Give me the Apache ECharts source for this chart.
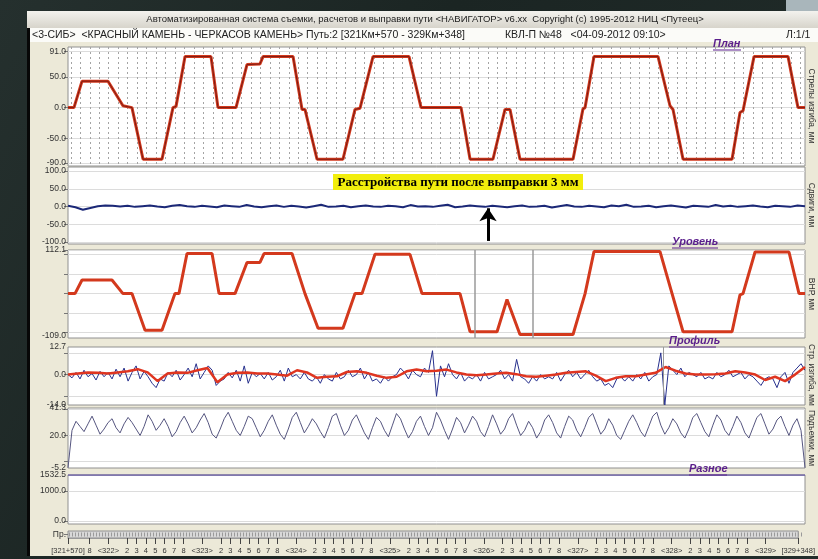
<!DOCTYPE html>
<html><head><meta charset="utf-8">
<script src="https://cdn.jsdelivr.net/npm/echarts@6/dist/echarts.min.js"></script>
<style>
html,body{margin:0;padding:0;background:#1e2927;overflow:hidden;}
#bg{position:absolute;left:0;top:0;width:818px;height:559px;background:linear-gradient(120deg,#25302e 0%,#1b2523 40%,#222d2b 100%);}
#corner{position:absolute;left:786px;top:0;width:32px;height:11px;background:#a9b6bb;}
#win{position:absolute;left:27px;top:11px;width:788px;height:545px;background:#ece9d8;border-left:3px solid #070707;}
#title{position:absolute;left:27px;top:11px;width:791px;height:17px;background:linear-gradient(#f3f2ee,#d7d4cb);}
#row2{position:absolute;left:30px;top:28px;width:788px;height:14px;background:#fbfbf8;}
#c{position:absolute;left:0;top:0;width:818px;height:559px;}
</style>
</head><body>
<div id="bg"></div><div id="corner"></div><div id="win"></div><div id="title"></div><div id="row2"></div>
<div id="c"></div>
<script>
const X_MIN = 321.57, X_MAX = 329.348;

// План (стрелы изгиба)
const planKm = [321.570,321.633,321.718,321.992,322.150,322.245,322.362,322.562,322.678,322.710,322.805,323.079,323.153,323.343,323.459,323.596,323.628,323.945,324.040,324.071,324.198,324.472,324.599,324.652,324.789,325.169,325.296,325.718,325.813,326.055,326.182,326.235,326.340,326.900,327.005,327.027,327.121,327.797,327.923,327.955,328.061,328.578,328.662,328.694,328.810,329.169,329.274,329.348];
const planVal = [0,0,43,43,3,0,-84,-84,0,2,83,83,0,0,70,71,83,83,-3,-3,-84,-84,-3,-1,83,83,0,0,-84,-84,-3,-3,-84,-84,-2,0,83,83,3,-3,-84,-84,-8,-5,83,83,0,0];

// Сдвиги
const shiftVals = [2,-2,-9,-4,1,3,2,0,2,-1, 1,3,0,-2,2,4,1,-1,2,0, -2,3,1,-1,4,0,-2,1,3,-1, 2,0,-3,1,5,-1,0,2,-2,1, 3,0,-1,2,1,-2,4,0,1,-1, 2,5,-2,0,3,1,-1,2,0,-2, 1,3,-1,0,2,-3,1,4,0,-1, 2,0,-2,3,1,5,-1,0,2,-2, 1,3,0,-3,2,1,-1,4,0,2, -1,1,3,0,-2,2,1,-1,3,1];

// Уровень (ВНР)
const levelKm = [321.570,321.644,321.718,322.034,322.150,322.245,322.383,322.562,322.699,322.741,322.826,323.090,323.164,323.333,323.459,323.596,323.639,323.934,324.071,324.092,324.209,324.472,324.599,324.673,324.810,325.179,325.306,325.707,325.813,326.098,326.203,326.340,326.900,327.027,327.121,327.818,327.945,328.061,328.578,328.662,328.694,328.821,329.179,329.285,329.348];
const levelVal = [0,0,35,35,0,0,-94,-94,0,0,103,103,0,0,80,80,103,103,0,0,-89,-89,0,0,101,101,0,0,-98,-98,-15,-105,-105,0,108,108,0,-98,-98,-3,0,107,107,0,0];
const levelMarks = [325.855, 326.467];

// Профиль
const profileTrend = [0,0.5,1,0.8,0.5,1,1.5,2.5,1,-3, 0.5,1,0.8,2,3,-3.5,0,0.8,1,0.5, 0.5,0,-0.5,2,1,-1.5,-1,-0.8,1.2,1.5, 0.8,-0.5,-1.5,-1,1.5,2.3,1.5,1.8,2.3,1, 0,-0.3,0,0.5,0.8,0.2,-0.8,-1,-0.5,0, 0.8,1.2,1.5,-0.5,-3,-1.5,-0.8,-0.8,0,0.8, 3.5,1.8,0.5,0,0,0.2,0.5,1.5,1,0, -2.5,-1,-3,0,3.5];
const profileRaw = [
 0,-1.5,1,-2,2,-1,0.5,-2.5,1.5,-1,
 1,-2,2.5,-1,3,-3,1,4,-2,1.5,
 -1,-4,-6,-2,-3,1,-1,2,-2.5,0,
 3,-1,5,-2,1,4,2,-5,-3,-2,
 1,-1.5,2,-3,4,-4,1,-1,0.5,-2,
 1,-2.5,-1,2,-3,3,-1,0,-2,1,
 -2,-3,-1,-4,0,-2,-3,1,-2,-1,
 2,-1,0,3,-2,1,-3,-2,-4,-1,
 -3,-1,0,3,1,-2,2,0,-1,3,
 1,11,-10,4,-1,5,0,-2,1,-3,
 -1,-2,0,-3,1,-2,-1,0,2,-2,
 0,-3,7,-1,-2,-4,-1,-3,0,-2,
 -1,-2,1,-3,0,2,-1,1,-2,0,
 2,-1,-3,-2,-5,-4,-6,-2,-1,-3,
 -1,-3,0,-2,1,-3,-1,0,10,-14,
 4,2,0,3,-1,1,0,-1,1,-2,
 -1,-2,1,-1,0,2,-1,0,1,-2,
 0,-1,-3,-5,-2,-1,-2,-6,-1,1,
 -4,1,3,5,2];
const profileMark = [327.850];

// Подъемки
const liftVals = [
 -5,24,31,27,23,29,35,28,21,25,
 30,33,26,22,29,34,30,25,20,27,
 36,31,24,28,33,27,19,23,30,35,
 29,22,26,32,37,30,21,18,25,33,
 38,31,24,20,27,35,33,26,19,24,
 31,36,28,21,17,25,34,38,30,22,
 27,33,29,23,18,26,35,37,28,20,
 24,32,36,29,22,17,26,34,31,24,
 19,28,37,33,25,18,23,31,35,27,
 20,26,38,32,24,17,25,34,30,22,
 28,35,31,23,19,27,36,29,21,25,
 33,37,28,20,24,31,26,18,23,32,
 36,30,22,18,27,35,32,24,19,26,
 34,37,29,21,25,33,28,20,17,24,
 31,36,30,23,19,27,35,38,28,21,
 26,33,29,22,18,25,34,37,30,23,
 19,28,36,32,24,20,27,35,30,22,
 18,26,34,37,29,21,25,32,35,27,
 20,28,33,24,-5];

// Разное
const raznoeKm = [321.57, 329.348];
const raznoeVal = [1532.5, 1532.5];

// Tick labels of the kilometre scale
const kmTicks = [321.57, 321.8];
const kmLabels = ['[321+570]', '8'];
for (let k = 322; k <= 329; k++) {
  kmTicks.push(k); kmLabels.push('<' + k + '>');
  if (k < 329) for (let p = 2; p <= 8; p++) { kmTicks.push(+(k + p / 10).toFixed(1)); kmLabels.push(String(p)); }
}
kmTicks.push(329.348); kmLabels.push('[329+348]');
const pickets = [];
for (let i = 3216; i <= 3293; i++) pickets.push(i / 10);

function zip(xs, ys) { return xs.map((x, i) => [x, ys[i]]); }
function spread(vals) { const n = vals.length; return vals.map((v, i) => [X_MIN + (X_MAX - X_MIN) * i / (n - 1), v]); }

const FONT = 'Liberation Sans';
const gridDefs = [[47,119],[167,77],[250,88],[347,58],[408,60],[475,49],[531,7]];
const grid = gridDefs.map((g, i) => ({left:68, right:13, top:g[0], height:g[1], show:true,
  backgroundColor: i === 6 ? '#d8d8d8' : '#ffffff', borderColor:'#909090', borderWidth:1}));

function xAx(i, extra) {
  return Object.assign({type:'value', gridIndex:i, min:X_MIN, max:X_MAX, show:false}, extra || {});
}
function yAx(i, min, max, labels, ticks, fmt) {
  return {type:'value', gridIndex:i, min:min, max:max,
    axisLine:{show:false},
    axisTick:{show:true, customValues:ticks, length:4, lineStyle:{color:'#777'}},
    axisLabel:{customValues:labels, formatter: fmt || (v => v.toFixed(1)), fontSize:8.5, fontFamily:FONT, color:'#333', margin:2},
    splitLine:{show:true, lineStyle:{color:'#dcdcdc', width:1}}};
}

const xAxis = [
  xAx(0, {show:true, axisLine:{show:false}, axisLabel:{show:false},
    axisTick:{show:false, customValues:pickets},
    splitLine:{show:true, lineStyle:{color:'#a4a4a4', type:[2,3], width:1}}}),
  xAx(1), xAx(2), xAx(3), xAx(4), xAx(5),
  xAx(6, {show:true, axisLine:{show:true, lineStyle:{color:'#9a9a9a'}},
    axisTick:{show:true, customValues:kmTicks, length:6, lineStyle:{color:'#444'}},
    axisLabel:{show:true, customValues:kmTicks, hideOverlap:false, fontSize:7.5, fontFamily:FONT, color:'#333', margin:9,
      formatter: v => { const i = kmTicks.findIndex(t => Math.abs(t - v) < 1e-6); return i >= 0 ? kmLabels[i] : ''; }},
    splitLine:{show:false}})
];

const yAxis = [
  yAx(0, -95, 98.6, [-90,-50,0,50,91], [-90,-50,0,50,91]),
  yAx(1, -105.6, 111.3, [-100,-50,0,50,100], [-100,-50,0,50,100]),
  yAx(2, -114.1, 112.1, [-109,112.1], [-100,-50,0,50,100,112.1]),
  yAx(3, -14, 12.7, [-14,0,12.7], [-10,0,10]),
  yAx(4, -5.2, 41.3, [-5.2,20,41.3], [0,20,40]),
  yAx(5, -100, 1532.5, [0,1000,1532.5], [0,1000]),
  yAx(6, 0, 1, [0.5], [0.5], () => 'Пр.')
];
yAxis[6].splitLine = {show:false};

const RED = '#d3391d';
const series = [
  {type:'line', xAxisIndex:0, yAxisIndex:0, data:zip(planKm, planVal), showSymbol:false, lineStyle:{color:RED, width:3}, z:3},
  {type:'line', xAxisIndex:0, yAxisIndex:0, data:zip(planKm, planVal), showSymbol:false, lineStyle:{color:'#7d1b12', width:1}, z:4},
  {type:'line', xAxisIndex:1, yAxisIndex:1, data:spread(shiftVals), showSymbol:false, lineStyle:{color:'#1b2877', width:2}, z:3,
    markLine:{silent:true, symbol:['none','arrow'], symbolSize:13, label:{show:false},
      lineStyle:{color:'#000', width:3, type:'solid'},
      data:[[{coord:[326.003,-97]},{coord:[326.003,-5]}]]}},
  {type:'line', xAxisIndex:2, yAxisIndex:2, data:zip(levelKm, levelVal), showSymbol:false, lineStyle:{color:RED, width:3}, z:3,
    markLine:{silent:true, symbol:'none', label:{show:false}, lineStyle:{color:'#9a9a9a', width:1.5, type:'solid'},
      data: levelMarks.map(v => ({xAxis:v}))}},
  {type:'line', xAxisIndex:3, yAxisIndex:3, data:spread(profileRaw), showSymbol:false, lineStyle:{color:'#27308d', width:1}, z:3,
    markLine:{silent:true, symbol:'none', label:{show:false}, lineStyle:{color:'#9a9a9a', width:1, type:'solid'},
      data: profileMark.map(v => ({xAxis:v}))}},
  {type:'line', xAxisIndex:3, yAxisIndex:3, data:spread(profileTrend), showSymbol:false, lineStyle:{color:'#df3520', width:2.5}, z:4},
  {type:'line', xAxisIndex:4, yAxisIndex:4, data:spread(liftVals), showSymbol:false, lineStyle:{color:'#55557f', width:1}, z:3},
  {type:'line', xAxisIndex:5, yAxisIndex:5, data:zip(raznoeKm, raznoeVal), showSymbol:false, lineStyle:{color:'#6a5ea6', width:1.5}, z:3}
];

function label(x, y, txt, w) {
  return [
    {type:'text', x:x, y:y, z:10, style:{text:txt, font:'italic bold 11px "Liberation Sans"', fill:'#5b1f8c', align:'left', verticalAlign:'middle'}},
    {type:'line', z:10, shape:{x1:x, y1:y+6, x2:x+w, y2:y+6}, style:{stroke:'#5b1f8c', lineWidth:1}}
  ];
}
function vname(x, y, txt) {
  return {type:'text', x:x, y:y, rotation:-Math.PI/2, z:10, style:{text:txt, font:'8.5px "Liberation Sans"', fill:'#333', align:'center', verticalAlign:'middle'}};
}

const graphic = [
  {type:'text', x:425, y:19.5, style:{text:'Автоматизированная система съемки, расчетов и выправки пути <НАВИГАТОР> v6.xx  Copyright (c) 1995-2012 НИЦ <Путеец>', font:'9.5px "Liberation Sans"', fill:'#222', align:'center', verticalAlign:'middle'}},
  {type:'text', x:32, y:35.5, style:{text:'<3-СИБ>  <КРАСНЫЙ КАМЕНЬ - ЧЕРКАСОВ КАМЕНЬ> Путь:2 [321Км+570 - 329Км+348]', font:'10.5px "Liberation Sans"', fill:'#222', align:'left', verticalAlign:'middle'}},
  {type:'text', x:505, y:35.5, style:{text:'КВЛ-П №48   <04-09-2012 09:10>', font:'10.5px "Liberation Sans"', fill:'#222', align:'left', verticalAlign:'middle'}},
  {type:'text', x:786, y:35.5, style:{text:'Л:1/1', font:'10.5px "Liberation Sans"', fill:'#222', align:'left', verticalAlign:'middle'}},
  {type:'rect', z:10, shape:{x:333, y:174, width:250, height:16}, style:{fill:'#f2ee0c'}},
  {type:'text', x:458, y:182.5, z:11, style:{text:'Расстройства пути после выправки 3 мм', font:'bold 13px "Liberation Serif"', fill:'#000', align:'center', verticalAlign:'middle'}},
  ...label(713, 44, 'План', 28),
  ...label(672, 242, 'Уровень', 46),
  ...label(669, 341, 'Профиль', 47),
  ...label(689, 469, 'Разное', 38),
  vname(811, 106, 'Стрелы изгиба, мм'),
  vname(811, 205, 'Сдвиги, мм'),
  vname(811, 294, 'ВНР, мм'),
  vname(811, 375, 'Стр. изгиба, мм'),
  vname(811, 438, 'Подъемки, мм'),
  {type:'line', z:10, shape:{x1:69, y1:534.5, x2:804, y2:534.5}, style:{stroke:'#9a9a9a', lineWidth:4, lineDash:[1,2]}}
];

const chart = echarts.init(document.getElementById('c'));
chart.setOption({animation:false, grid:grid, xAxis:xAxis, yAxis:yAxis, series:series, graphic:graphic});
</script>
</body></html>
